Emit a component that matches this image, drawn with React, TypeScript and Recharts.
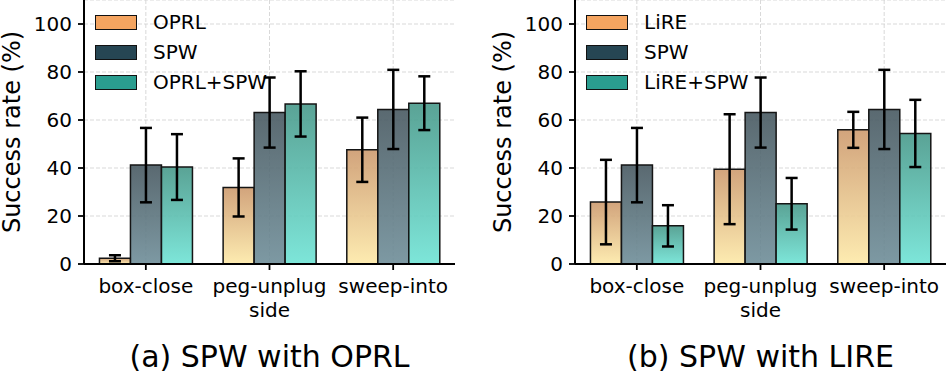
import React from 'react';
import { BarChart, Bar, XAxis, YAxis, CartesianGrid, ErrorBar, Legend } from 'recharts';

const categories = ['box-close', 'peg-unplug\nside', 'sweep-into'];
const spw = [41.2, 63.1, 64.4];
const spwErr = [15.5, 14.6, 16.5];
const oprl = [2.4, 31.9, 47.6];
const oprlErr = [1.25, 12.1, 13.4];
const oprlSpw = [40.4, 66.7, 67.0];
const oprlSpwErr = [13.7, 13.6, 11.2];
const lire = [25.8, 39.5, 55.9];
const lireErr = [17.6, 22.9, 7.5];
const lireSpw = [15.9, 25.1, 54.4];
const lireSpwErr = [8.6, 10.75, 14.0];
const yTicks = [0, 20, 40, 60, 80, 100];

const FONT = '"DejaVu Sans", sans-serif';

const legendColors = ['#f4a460', '#264653', '#2a9d8f'];
const gradTop = ['#cd9a6e', '#485961', '#48998a'];
const gradBottom = ['#fde9a8', '#6f8e99', '#6fe3d5'];

const XTick = (props: any) => {
  const { x, y, payload } = props;
  const lines = String(payload.value).split('\n');
  return (
    <g>
      <text x={x} y={y} textAnchor="middle" fontSize={20} fontFamily={FONT} fill="#000">
        {lines.map((l, i) => (
          <tspan key={i} x={x} dy={i === 0 ? 23 : 24}>
            {l}
          </tspan>
        ))}
      </text>
    </g>
  );
};

const YLabel = (props: any) => {
  const vb = props.viewBox || { x: 0, y: 0, width: 84, height: 264 };
  const cx = vb.x + vb.width - 64.5;
  const cy = vb.y + vb.height / 2;
  return (
    <text
      x={cx}
      y={cy}
      transform={`rotate(-90, ${cx}, ${cy})`}
      textAnchor="middle"
      fontSize={24}
      fontFamily={FONT}
      fill="#000"
    >
      Success rate (%)
    </text>
  );
};

const makeTitle = (title: string) => (props: any) => {
  const vb = props.viewBox || { x: 84, y: 264, width: 371, height: 110 };
  return (
    <text
      x={vb.x + vb.width / 2}
      y={vb.y + 103}
      textAnchor="middle"
      fontSize={30}
      fontFamily={FONT}
      fill="#000"
    >
      {title}
    </text>
  );
};

const vGen = (args: any) => {
  const xAxis = args && args.xAxis;
  const s = xAxis && xAxis.scale;
  if (s && typeof s === 'function' && typeof s.bandwidth === 'function') {
    return categories.map((c) => s(c) + s.bandwidth() / 2);
  }
  const off = args.offset;
  const w = off.width / categories.length;
  return categories.map((_, i) => off.left + w * (i + 0.5));
};

const makeLegend = (names: string[], shift: number) => () => (
  <div style={{ position: 'relative', width: 320, height: 100, fontFamily: FONT }}>
    {names.map((n, i) => (
      <div
        key={n}
        style={{
          position: 'absolute',
          left: 0,
          top: 7 + i * 30,
          height: 30,
          display: 'flex',
          alignItems: 'center',
        }}
      >
        <div
          style={{
            boxSizing: 'border-box',
            width: 42,
            height: 15,
            background: legendColors[i],
            border: '1.6px solid #111',
            marginLeft: 95 + shift,
          }}
        />
        <span style={{ marginLeft: 16, fontSize: 20, color: '#000', whiteSpace: 'nowrap' }}>{n}</span>
      </div>
    ))}
  </div>
);

type PanelProps = {
  id: string;
  method: string;
  title: string;
  base: number[];
  baseErr: number[];
  comb: number[];
  combErr: number[];
  left: number;
  axisW: number;
};

const Panel = ({ id, method, title, base, baseErr, comb, combErr, left, axisW }: PanelProps) => {
  const data = categories.map((name, i) => ({
    name,
    base: base[i],
    baseErr: baseErr[i],
    spw: spw[i],
    spwErr: spwErr[i],
    comb: comb[i],
    combErr: combErr[i],
  }));
  const keys = [
    ['base', 'baseErr', method],
    ['spw', 'spwErr', 'SPW'],
    ['comb', 'combErr', `${method}+SPW`],
  ];
  return (
    <div style={{ position: 'absolute', left, top: 0 }}>
      <BarChart
        width={axisW + 371}
        height={374}
        data={data}
        margin={{ top: 0, right: 0, left: 0, bottom: 0 }}
        barCategoryGap="12.5%"
        barGap={0}
      >
        <defs>
          {keys.map((k, i) => (
            <linearGradient key={k[0]} id={`${id}-g${i}`} x1="0" y1="0" x2="0" y2="1">
              <stop offset="0%" stopColor={gradTop[i]} />
              <stop offset="100%" stopColor={gradBottom[i]} />
            </linearGradient>
          ))}
        </defs>
        <CartesianGrid
          stroke="#cfcfcf"
          strokeDasharray="4 2"
          strokeWidth={0.8}
          verticalCoordinatesGenerator={vGen}
        />
        <XAxis
          dataKey="name"
          interval={0}
          height={110}
          tick={<XTick />}
          tickSize={6}
          tickMargin={0}
          axisLine={{ stroke: '#000', strokeWidth: 2 }}
          tickLine={{ stroke: '#000', strokeWidth: 1.8 }}
          label={makeTitle(title)}
        />
        <YAxis
          width={axisW}
          domain={[0, 110]}
          ticks={yTicks}
          allowDataOverflow
          tickSize={6}
          tickMargin={6}
          tick={{ fontSize: 20, fill: '#000', fontFamily: FONT }}
          axisLine={{ stroke: '#000', strokeWidth: 2 }}
          tickLine={{ stroke: '#000', strokeWidth: 1.8 }}
          label={YLabel}
        />
        <Legend
          layout="horizontal"
          verticalAlign="middle"
          align="center"
          wrapperStyle={{ position: 'absolute', top: 0, left: 0, width: 320, height: 100 }}
          content={makeLegend(
            keys.map((k) => k[2]),
            axisW - 84
          )}
        />
        {keys.map((k, i) => (
          <Bar
            key={k[0]}
            dataKey={k[0]}
            name={k[2]}
            fill={`url(#${id}-g${i})`}
            fillOpacity={0.9}
            stroke="#151515"
            strokeWidth={1.5}
            isAnimationActive={false}
          >
            <ErrorBar dataKey={k[1]} width={6} stroke="#000" strokeWidth={2.5} direction="y" />
          </Bar>
        ))}
      </BarChart>
    </div>
  );
};

export default function App() {
  return (
    <div style={{ position: 'absolute', left: 0, top: 0, width: 946, height: 374, background: '#fff' }}>
      <Panel
        id="a"
        method="OPRL"
        title="(a) SPW with OPRL"
        base={oprl}
        baseErr={oprlErr}
        comb={oprlSpw}
        combErr={oprlSpwErr}
        left={0}
        axisW={84}
      />
      <Panel
        id="b"
        method="LiRE"
        title="(b) SPW with LIRE"
        base={lire}
        baseErr={lireErr}
        comb={lireSpw}
        combErr={lireSpwErr}
        left={476}
        axisW={99}
      />
    </div>
  );
}
